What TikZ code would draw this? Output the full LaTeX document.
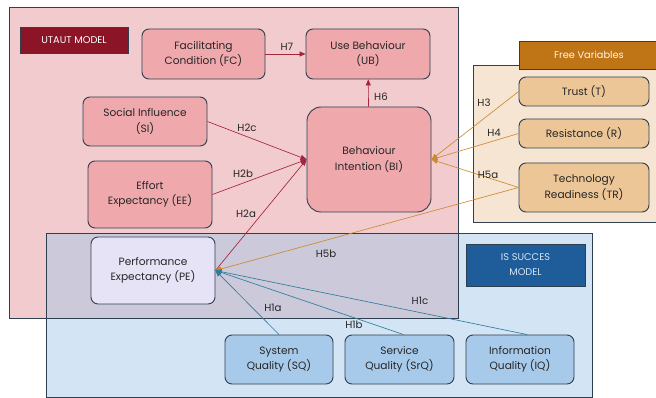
\documentclass[tikz,border=0pt]{standalone}
\usepackage{fontspec}
\setmainfont{Poppins}
\usepackage{tikz}
\usetikzlibrary{arrows.meta, positioning}
\definecolor{utautbg}{HTML}{F2CBCE}
\definecolor{utautnode}{HTML}{EFA9AD}
\definecolor{utautlbl}{HTML}{8B1426}
\definecolor{arrred}{HTML}{A4243B}
\definecolor{freebg}{HTML}{F6E5D3}
\definecolor{freenode}{HTML}{ECC697}
\definecolor{freelbl}{HTML}{BF7416}
\definecolor{arrorange}{HTML}{CC8A2E}
\definecolor{isbg}{HTML}{D3E4F5}
\definecolor{isnode}{HTML}{A7CAEB}
\definecolor{islbl}{HTML}{1F5D9A}
\definecolor{arrteal}{HTML}{2F7D9B}
\definecolor{overlapbg}{HTML}{CCC9DB}
\definecolor{penode}{HTML}{E6E3F6}
\definecolor{edge}{HTML}{2E3F4F}
\begin{document}
\begin{tikzpicture}[
  x=1pt, y=-1pt,
  construct/.style={draw=edge, line width=0.9pt, rounded corners=7pt, align=center,
    inner sep=2pt, font=\fontsize{10.6}{15.5}\selectfont, text=black!85},
  utaut/.style={construct, fill=utautnode},
  freev/.style={construct, fill=freenode},
  issm/.style={construct, fill=isnode},
  tag/.style={draw=edge, line width=0.9pt, align=center, inner sep=2pt,
    font=\fontsize{9.8}{15}\selectfont},
  hyp/.style={font=\fontsize{10.2}{12}\selectfont, text=black!85, inner sep=1pt},
  arr/.style={-{Triangle[length=6pt,width=5pt]}, line width=0.65pt}
]
\useasboundingbox (0,0) rectangle (656,398);

% Model areas
\fill[utautbg] (9,7) rectangle (458,318);
\fill[freebg] (473,65) rectangle (656,222);
\fill[isbg] (46,233) rectangle (592,397);
\fill[overlapbg] (46,233) rectangle (458,318);
\draw[edge, line width=0.9pt] (9,7) rectangle (458,318);
\draw[edge, line width=0.9pt] (473,65) rectangle (658,222);
\draw[edge, line width=0.9pt] (46,233) rectangle (592,397);

\node[tag, fill=utautlbl, text=white, minimum width=108pt, minimum height=26pt] (lblU) at (74,40) {UTAUT MODEL};
\node[tag, fill=freelbl, text=white!92!orange, minimum width=140pt, minimum height=28pt] (lblF) at (589,55) {Free Variables};
\node[tag, fill=islbl, text=isbg, minimum width=119pt, minimum height=42pt] (lblI) at (525.5,265) {IS SUCCES\\MODEL};

% UTAUT constructs
\node[utaut, minimum width=123pt, minimum height=50pt] (fc) at (203.5,54) {Facilitating\\Condition (FC)};
\node[utaut, minimum width=124pt, minimum height=50pt] (ub) at (368,54) {Use Behaviour\\(UB)};
\node[utaut, rounded corners=14pt, minimum width=124pt, minimum height=105pt] (bi) at (369,159.5) {Behaviour\\Intention (BI)};
\node[utaut, minimum width=124pt, minimum height=49pt] (si) at (145,121.5) {Social Influence\\(SI)};
\node[utaut, minimum width=124pt, minimum height=67pt] (ee) at (150,194.5) {Effort\\Expectancy (EE)};
\node[construct, fill=penode, minimum width=124pt, minimum height=67pt] (pe) at (153,270.5) {Performance\\Expectancy (PE)};

% Free variables
\node[freev, minimum width=130pt, minimum height=29pt] (tr) at (584,91.5) {Trust (T)};
\node[freev, minimum width=130pt, minimum height=29pt] (rs) at (584,133.5) {Resistance (R)};
\node[freev, minimum width=130pt, minimum height=49pt] (tchr) at (584,187.5) {Technology\\Readiness (TR)};

% IS success constructs
\node[issm, minimum width=108pt, minimum height=49pt] (sq) at (279,359.5) {System\\Quality (SQ)};
\node[issm, minimum width=109pt, minimum height=49pt] (srq) at (399.5,359.5) {Service\\Quality (SrQ)};
\node[issm, minimum width=108pt, minimum height=49pt] (iq) at (520,359.5) {Information\\Quality (IQ)};

% Hypotheses
\draw[arr, arrred] (fc) -- (ub);
\draw[arr, arrred] (bi) -- (ub);
\draw[arr, arrred] (si.east) -- (bi.west);
\draw[arr, arrred] (ee.east) -- (bi.west);
\draw[arr, arrred] (pe.east) -- (bi.west);
\draw[arr, arrorange] (tr.west) -- (bi.east);
\draw[arr, arrorange] (rs.west) -- (bi.east);
\draw[arr, arrorange] (tchr.west) -- (bi.east);
\draw[arr, arrorange] (tchr.west) -- (pe.east);
\draw[arr, arrteal] (sq.north) -- (pe.east);
\draw[arr, arrteal] ([xshift=4pt]srq.north) -- (pe.east);
\draw[arr, arrteal] ([xshift=7pt]iq.north) -- (pe.east);

\node[hyp] (h7) at (287,47) {H7};
\node[hyp] (h6) at (381,97) {H6};
\node[hyp] (h2c) at (247,128) {H2c};
\node[hyp] (h2b) at (243,174) {H2b};
\node[hyp] (h2a) at (246,214) {H2a};
\node[hyp] (h3) at (484,103) {H3};
\node[hyp] (h4) at (494,133) {H4};
\node[hyp] (h5a) at (488,175) {H5a};
\node[hyp] (h5b) at (326,254) {H5b};
\node[hyp] (h1a) at (273,308) {H1a};
\node[hyp] (h1b) at (354,325) {H1b};
\node[hyp] (h1c) at (420,301) {H1c};
\end{tikzpicture}
\end{document}
